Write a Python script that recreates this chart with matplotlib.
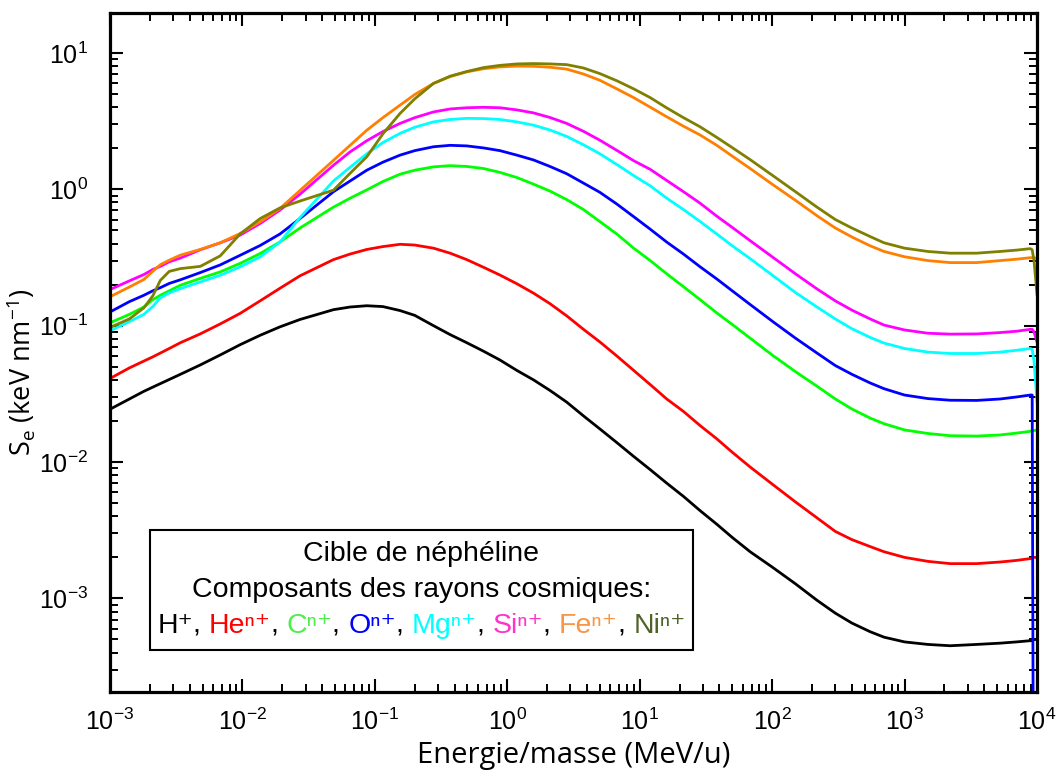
import matplotlib.pyplot as plt
import matplotlib.ticker as mticker
from matplotlib.offsetbox import TextArea, HPacker, VPacker, AnnotationBbox
from matplotlib.patches import Rectangle

plt.rcParams.update(
    {
        "font.family": ["Liberation Sans", "DejaVu Sans"],
        "font.size": 18,
        "axes.linewidth": 2.3,
    }
)

# ── Data ─────────────────────────────────────────────────────────────────────
# energy per nucleon (MeV/u), shared grid for all ions
energy = [0.001, 0.0014, 0.0018, 0.0021, 0.0024, 0.0028, 0.0034, 0.0048, 0.0068,
          0.0096, 0.0136, 0.0192, 0.0272, 0.0487, 0.065, 0.0869,
          0.115, 0.155, 0.2, 0.277, 0.37, 0.494, 0.661, 0.88, 1.18, 1.58,
          2.1, 2.81, 3.76, 5.0, 6.71, 9.0, 12, 16, 21.4, 28.6, 38.2, 50, 68.2,
          100, 150, 218, 300, 400, 550, 700, 1000, 1500, 2210, 3500, 5270,
          7000, 8900, 9200, 9500, 10000]

# electronic stopping power Se (keV/nm)
se_h = [0.0244, 0.029, 0.033, 0.0354, 0.0376, 0.0403, 0.044, 0.0515, 0.061,
        0.0725, 0.085, 0.098, 0.111, 0.131, 0.137, 0.140,
        0.138, 0.129, 0.119, 0.100, 0.086, 0.075, 0.065, 0.056, 0.047, 0.040,
        0.0335, 0.0275, 0.0218, 0.0175, 0.0139, 0.0110, 0.0088, 0.0070, 0.0056,
        0.0044, 0.0035, 0.0028, 0.0022, 0.0017, 0.00128, 0.00097, 0.00078,
        0.00066, 0.00057, 0.00052, 0.00048, 0.00046, 0.00045, 0.00046, 0.00047,
        0.00048, 0.00049, 0.00049, 0.0005, 0.0005]
se_he = [0.041, 0.049, 0.055, 0.059, 0.063, 0.068, 0.075, 0.087, 0.103, 0.123,
         0.152, 0.188, 0.232, 0.305, 0.335, 0.362,
         0.38, 0.395, 0.39, 0.37, 0.34, 0.305, 0.268, 0.235, 0.203, 0.173,
         0.145, 0.118, 0.094, 0.076, 0.060, 0.047, 0.037, 0.029, 0.0235, 0.0185,
         0.0148, 0.0118, 0.0092, 0.0069, 0.0051, 0.0039, 0.0031, 0.0027, 0.0024,
         0.0022, 0.0020, 0.00187, 0.0018, 0.0018, 0.00185, 0.0019, 0.00196,
         0.00197, 0.002, 0.002]
se_c = [0.105, 0.121, 0.137, 0.155, 0.167, 0.18, 0.198, 0.222, 0.248, 0.286,
        0.338, 0.411, 0.52, 0.74, 0.86, 0.99,
        1.14, 1.29, 1.38, 1.46, 1.49, 1.47, 1.42, 1.33, 1.22, 1.09, 0.97, 0.84,
        0.71, 0.58, 0.47, 0.37, 0.30, 0.24, 0.193, 0.155, 0.124, 0.102, 0.081,
        0.061, 0.046, 0.036, 0.029, 0.0245, 0.021, 0.0191, 0.0172, 0.0162,
        0.0156, 0.0155, 0.0158, 0.0163, 0.0168, 0.0169, 0.017, 0.0172]
se_o = [0.126, 0.150, 0.167, 0.18, 0.19, 0.204, 0.217, 0.245, 0.279, 0.328,
        0.387, 0.47, 0.61, 0.96, 1.15, 1.38,
        1.58, 1.78, 1.92, 2.05, 2.10, 2.08, 2.01, 1.92, 1.78, 1.64, 1.47, 1.30,
        1.11, 0.95, 0.78, 0.63, 0.51, 0.41, 0.335, 0.27, 0.22, 0.18, 0.143,
        0.108, 0.081, 0.063, 0.051, 0.044, 0.038, 0.0345, 0.031, 0.0292, 0.0284,
        0.0283, 0.029, 0.030, 0.031, 0.031, 1e-6, 1e-6]
se_mg = [0.0917, 0.107, 0.121, 0.138, 0.16, 0.174, 0.187, 0.209, 0.234, 0.270,
         0.319, 0.41, 0.62, 1.15, 1.45, 1.82,
         2.2, 2.57, 2.85, 3.12, 3.25, 3.31, 3.30, 3.25, 3.12, 2.95, 2.72, 2.44,
         2.12, 1.82, 1.52, 1.26, 1.06, 0.86, 0.71, 0.58, 0.47, 0.385, 0.31,
         0.235, 0.175, 0.137, 0.112, 0.095, 0.082, 0.0745, 0.068, 0.064, 0.0625,
         0.0625, 0.064, 0.066, 0.068, 0.067, 0.055, 0.028]
se_si = [0.184, 0.213, 0.237, 0.258, 0.272, 0.294, 0.313, 0.36, 0.405, 0.461,
         0.561, 0.703, 0.92, 1.5, 1.88, 2.27,
         2.65, 3.04, 3.35, 3.69, 3.88, 3.96, 3.99, 3.96, 3.82, 3.63, 3.36, 3.04,
         2.66, 2.29, 1.93, 1.62, 1.40, 1.16, 0.96, 0.79, 0.635, 0.525, 0.42,
         0.32, 0.24, 0.186, 0.152, 0.13, 0.112, 0.101, 0.093, 0.088, 0.0867,
         0.087, 0.089, 0.091, 0.094, 0.094, 0.09, 0.076]
se_fe = [0.163, 0.192, 0.218, 0.25, 0.28, 0.302, 0.329, 0.362, 0.405, 0.474,
         0.577, 0.723, 0.98, 1.63, 2.1, 2.71,
         3.35, 4.14, 4.95, 5.97, 6.7, 7.26, 7.65, 7.89, 8.0, 7.97, 7.85, 7.6,
         7.0, 6.3, 5.45, 4.7, 4.0, 3.4, 2.9, 2.5, 2.1, 1.75, 1.42, 1.09, 0.83,
         0.64, 0.52, 0.447, 0.385, 0.35, 0.32, 0.30, 0.29, 0.29, 0.30, 0.307,
         0.315, 0.315, 0.315, 0.31]
se_ni = [0.097, 0.112, 0.135, 0.165, 0.215, 0.250, 0.262, 0.272, 0.325, 0.47,
         0.61, 0.73, 0.82, 0.985, 1.31, 1.73,
         2.55, 3.60, 4.6, 5.97, 6.75, 7.3, 7.8, 8.1, 8.3, 8.35, 8.3, 8.2, 7.75,
         7.05, 6.25, 5.45, 4.7, 3.95, 3.35, 2.87, 2.4, 2.02, 1.65, 1.27, 0.96,
         0.74, 0.6, 0.52, 0.45, 0.405, 0.37, 0.35, 0.34, 0.34, 0.35, 0.358,
         0.367, 0.36, 0.30, 0.17]

ion_labels = ["H⁺", "Heⁿ⁺", "Cⁿ⁺", "Oⁿ⁺", "Mgⁿ⁺", "Siⁿ⁺", "Feⁿ⁺", "Niⁿ⁺"]
line_colors = ["black", "#FF0000", "#00FF00", "#0000FF", "#00FFFF", "#FF00FF",
               "#FF8000", "#808000"]
text_colors = ["black", "#FF0000", "#4CEF4C", "#0000FF", "#00FFFF", "#FF33CC",
               "#F79646", "#4F6228"]
series = [se_h, se_he, se_c, se_o, se_mg, se_si, se_fe, se_ni]

x_decades = [1e-3, 1e-2, 1e-1, 1e0, 1e1, 1e2, 1e3, 1e4]
y_decades = [1e-3, 1e-2, 1e-1, 1e0, 1e1]

# ── Plot ──────────────────────────────────────────────────────────────────────
fig = plt.figure(figsize=(10.59, 7.75), dpi=100)
ax = fig.add_axes([0.1039, 0.1067, 0.8753, 0.8761])

for se, col in zip(series, line_colors):
    ax.plot(energy, se, color=col, lw=2.0)

ax.set_xscale("log")
ax.set_yscale("log")
ax.set_xlim(1e-3, 1e4)
ax.set_ylim(2.05e-4, 19.5)

ax.xaxis.set_major_locator(mticker.FixedLocator(x_decades))
ax.yaxis.set_major_locator(mticker.FixedLocator(y_decades))
ax.xaxis.set_major_formatter(mticker.LogFormatterMathtext())
ax.yaxis.set_major_formatter(mticker.LogFormatterMathtext())
ax.xaxis.set_minor_locator(mticker.LogLocator(base=10, subs=range(2, 10), numticks=20))
ax.yaxis.set_minor_locator(mticker.LogLocator(base=10, subs=range(2, 10), numticks=20))
ax.xaxis.set_minor_formatter(mticker.NullFormatter())
ax.yaxis.set_minor_formatter(mticker.NullFormatter())

ax.tick_params(which="both", direction="in", top=True, right=True)
ax.tick_params(which="major", length=9.5, width=1.5, labelsize=18)
ax.tick_params(which="minor", length=5.5, width=1.4)
ax.tick_params(axis="x", which="major", pad=12)
ax.tick_params(axis="y", which="major", pad=16)

ax.set_xlabel("Energie/masse (MeV/u)", family="Open Sans", fontsize=21)
ax.set_ylabel(r"S$_\mathdefault{e}$ (keV nm$^\mathdefault{-1}$)",
              family="Open Sans", fontsize=19.5)
ax.xaxis.set_label_coords(0.5, -0.071)
ax.yaxis.set_label_coords(-0.078, 0.472)

# text box with coloured ion list
fs = 20.5
parts = []
for i, (lab, col) in enumerate(zip(ion_labels, text_colors)):
    parts.append(TextArea(lab, textprops=dict(color=col, fontsize=fs)))
    if i < len(ion_labels) - 1:
        parts.append(TextArea(", ", textprops=dict(color="black", fontsize=fs)))
row = HPacker(children=parts, align="baseline", pad=0, sep=0)
block = VPacker(
    children=[
        TextArea("Cible de néphéline", textprops=dict(fontsize=fs)),
        TextArea("Composants des rayons cosmiques:", textprops=dict(fontsize=fs)),
        row,
    ],
    align="center",
    pad=0,
    sep=7,
)
ax.add_patch(Rectangle((0.043, 0.0623), 0.586, 0.177, transform=ax.transAxes,
                       facecolor="white", edgecolor="black", lw=1.5, zorder=5))
ax.add_artist(AnnotationBbox(block, (0.336, 0.151), xycoords="axes fraction",
                             frameon=False, zorder=6))

fig.savefig("out.png", dpi=100)
